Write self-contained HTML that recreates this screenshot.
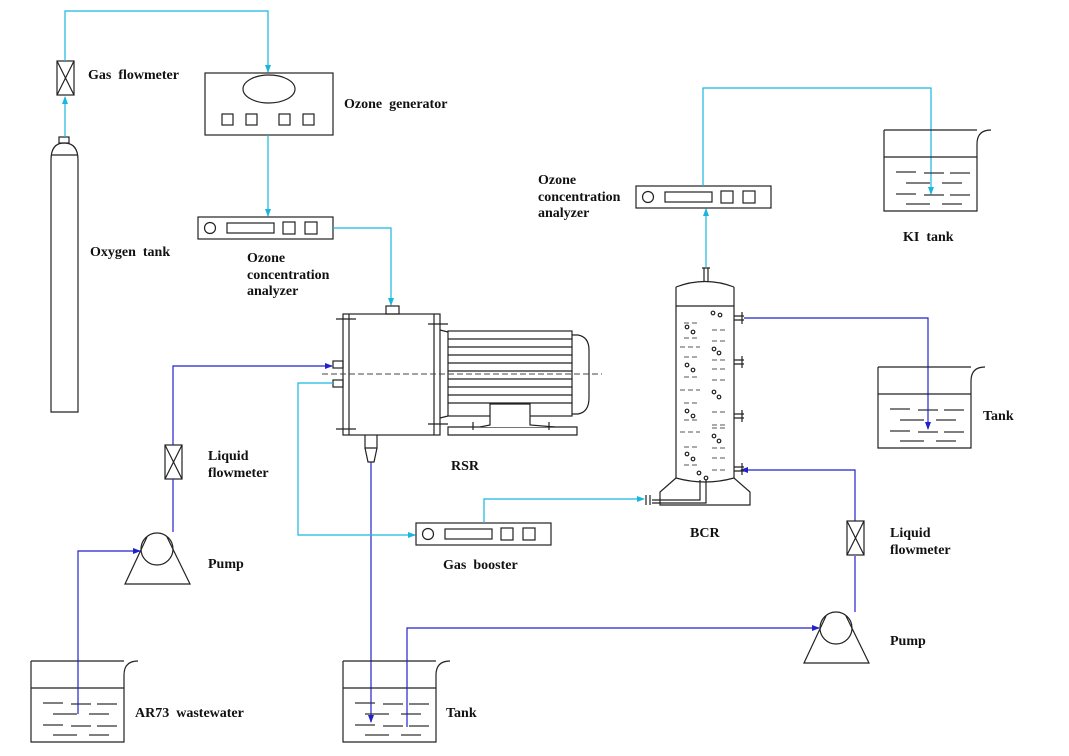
<!DOCTYPE html>
<html><head><meta charset="utf-8"><style>
html,body{margin:0;padding:0;background:#fff}
svg{display:block}
text{font-family:"Liberation Serif",serif;font-weight:bold;font-size:14px;fill:#111;white-space:pre}
.k{fill:none;stroke:#222;stroke-width:1.2}
.c{fill:none;stroke:#19b6e0;stroke-width:1.2}
.b{fill:none;stroke:#2222cc;stroke-width:1.2}
.d{stroke:#333;stroke-width:1.3}
</style></head><body>
<svg width="1069" height="756" viewBox="0 0 1069 756" xmlns="http://www.w3.org/2000/svg" xml:space="preserve">
<defs>
<marker id="ac" markerWidth="8" markerHeight="6" refX="7" refY="3" orient="auto" markerUnits="userSpaceOnUse"><path d="M0,0 L8,3 L0,6z" fill="#19b6e0"/></marker>
<marker id="ab" markerWidth="8" markerHeight="6" refX="7" refY="3" orient="auto" markerUnits="userSpaceOnUse"><path d="M0,0 L8,3 L0,6z" fill="#2222cc"/></marker>
<g id="tank">
<path class="k" d="M0,0 V81 H93 V14 Q93,0 107,0 M0,0 H93 M0,27 H93"/>
<g class="d">
<line x1="12" y1="42" x2="32" y2="42"/><line x1="40" y1="43" x2="60" y2="43"/><line x1="66" y1="43" x2="86" y2="43"/>
<line x1="22" y1="53" x2="46" y2="53"/><line x1="58" y1="53" x2="78" y2="53"/>
<line x1="12" y1="64" x2="32" y2="64"/><line x1="40" y1="65" x2="60" y2="65"/><line x1="66" y1="65" x2="86" y2="65"/>
<line x1="22" y1="74" x2="46" y2="74"/><line x1="58" y1="74" x2="78" y2="74"/>
</g>
</g>
<g id="fm"><rect class="k" x="0" y="0" width="17" height="34"/><path class="k" d="M0,0 L17,34 M17,0 L0,34"/></g>
<g id="pump"><circle class="k" cx="0" cy="0" r="16"/><path class="k" d="M-10,-12 L-32,35 H33 L10,-12"/></g>
<g id="an"><rect class="k" x="0" y="0" width="135" height="22"/><circle class="k" cx="12" cy="11" r="5.5"/><rect class="k" x="29" y="6" width="47" height="10"/><rect class="k" x="85" y="5" width="12" height="12"/><rect class="k" x="107" y="5" width="12" height="12"/></g>
</defs>

<rect class="k" x="59" y="137" width="10" height="6"/>
<path class="k" d="M51,412 V160 Q51,143 64,143 Q78,143 78,160 V412 Z"/>
<path class="k" d="M51,155 H78"/>
<path class="c" d="M65,137 V97" marker-end="url(#ac)"/>
<use href="#fm" x="57" y="61"/>
<path class="c" d="M65,61 V11 H268 V72" marker-end="url(#ac)"/>
<text x="88" y="79">Gas  flowmeter</text>
<text x="90" y="256">Oxygen  tank</text>

<rect class="k" x="205" y="73" width="128" height="62"/>
<ellipse class="k" cx="269" cy="89" rx="26" ry="14"/>
<rect class="k" x="222" y="114" width="11" height="11"/><rect class="k" x="246" y="114" width="11" height="11"/><rect class="k" x="279" y="114" width="11" height="11"/><rect class="k" x="303" y="114" width="11" height="11"/>
<text x="344" y="108">Ozone  generator</text>
<path class="c" d="M268,135 V216" marker-end="url(#ac)"/>
<use href="#an" x="198" y="217"/>
<text x="247" y="262">Ozone</text><text x="247" y="279">concentration</text><text x="247" y="295">analyzer</text>
<path class="c" d="M333,228 H391 V305" marker-end="url(#ac)"/>

<rect class="k" x="386" y="306" width="13" height="8"/>
<rect class="k" x="343" y="314" width="97" height="121"/>
<path class="k" d="M349,314 V435 M434,314 V435 M336,319 H356 M336,429 H356 M428,324 H448 M428,424 H448"/>
<rect class="k" x="333" y="361" width="10" height="7"/>
<rect class="k" x="333" y="380" width="10" height="7"/>
<path class="k" d="M440,330 L448,332 M440,418 L448,416"/>
<rect class="k" x="448" y="331" width="124" height="85"/>
<path class="k" d="M448,339 H572 M448,347 H572 M448,355 H572 M448,363 H572 M448,371 H572 M448,379 H572 M448,387 H572 M448,395 H572 M448,403 H572"/>
<path class="k" d="M572,335 H578 Q589,337 589,350 V398 Q589,412 578,414 H572"/>
<path class="k" d="M448,427 V435 H577 V427 Z"/>
<path d="M480,427 L490,425 V404 H530 V425 L555,427" fill="#fff" stroke="#222" stroke-width="1.2"/>
<path class="k" d="M473,422 V430 M549,422 V430"/>
<path d="M322,374 H602" stroke="#444" stroke-width="0.9" stroke-dasharray="6,3" fill="none"/>
<path class="k" d="M365,435 V448 H377 V435 M365,448 L368,462 H374 L377,448"/>
<text x="451" y="470">RSR</text>
<path class="b" d="M371,462 V722" marker-end="url(#ab)"/>

<use href="#fm" x="165" y="445"/>
<path class="b" d="M173,532 V479 M173,445 V366 H332" marker-end="url(#ab)"/>
<use href="#pump" x="157" y="549"/>
<text x="208" y="568">Pump</text>
<text x="208" y="460">Liquid</text><text x="208" y="477">flowmeter</text>
<use href="#tank" x="31" y="661"/>
<path class="b" d="M78,714 V551 H140" marker-end="url(#ab)"/>
<text x="135" y="717">AR73  wastewater</text>

<path class="c" d="M333,383 H298 V535 H415" marker-end="url(#ac)"/>
<use href="#an" x="416" y="523"/>
<text x="443" y="569">Gas  booster</text>
<path class="c" d="M484,523 V499 H644" marker-end="url(#ac)"/>

<use href="#tank" x="343" y="661"/>
<text x="446" y="717">Tank</text>
<path class="b" d="M407,727 V628 H819" marker-end="url(#ab)"/>
<use href="#pump" x="836" y="628"/>
<text x="890" y="645">Pump</text>
<path class="b" d="M855,612 V556 M855,521 V470 H741" marker-end="url(#ab)"/>
<use href="#fm" x="847" y="521"/>
<text x="890" y="537">Liquid</text><text x="890" y="554">flowmeter</text>

<path class="k" d="M702,268 H710 M704,268 V281 M708,268 V281"/>
<path class="k" d="M676,287 Q705,276 734,287"/>
<path class="k" d="M676,287 V478 M734,287 V478 M676,306 H734"/>
<path class="k" d="M676,478 Q705,486 734,478 L750,492 V505 H660 V492 L676,478"/>
<path class="k" d="M700,480 V500 H652 M706,480 V503 H652"/>
<path class="k" d="M646,495 V505 M650,495 V505"/>
<g class="k">
<path d="M734,316 H744 M734,320 H744 M742,312 V324"/>
<path d="M734,360 H744 M734,364 H744 M742,356 V368"/>
<path d="M734,414 H744 M734,418 H744 M742,410 V422"/>
<path d="M734,467 H744 M734,471 H744 M742,463 V475"/>
</g>
<g stroke="#555" stroke-width="1">
<path d="M684,323 H697 M684,338 H697 M712,330 H726 M712,341 H726 M680,347 H700 M684,357 H697 M684,377 H697 M712,360 H726 M712,380 H726 M712,369 H726 M680,390 H700 M684,403 H697 M684,420 H697 M712,412 H726 M712,425 H726 M712,428 H726 M680,432 H700 M684,447 H697 M684,465 H697 M712,448 H726 M712,458 H726 M712,470 H726" stroke-dasharray="5,3"/>
</g>
<g class="k" stroke-width="0.9">
<circle cx="713" cy="313" r="1.8"/><circle cx="720" cy="315" r="1.8"/><circle cx="687" cy="327" r="1.8"/><circle cx="693" cy="332" r="1.8"/>
<circle cx="714" cy="349" r="1.8"/><circle cx="719" cy="353" r="1.8"/><circle cx="687" cy="365" r="1.8"/><circle cx="693" cy="370" r="1.8"/>
<circle cx="714" cy="392" r="1.8"/><circle cx="719" cy="397" r="1.8"/><circle cx="687" cy="411" r="1.8"/><circle cx="693" cy="416" r="1.8"/>
<circle cx="714" cy="436" r="1.8"/><circle cx="719" cy="441" r="1.8"/><circle cx="687" cy="454" r="1.8"/><circle cx="693" cy="459" r="1.8"/>
<circle cx="699" cy="473" r="1.8"/><circle cx="706" cy="478" r="1.8"/>
</g>
<text x="690" y="537">BCR</text>
<path class="c" d="M706,267 V209" marker-end="url(#ac)"/>
<use href="#an" x="636" y="186"/>
<text x="538" y="184">Ozone</text><text x="538" y="201">concentration</text><text x="538" y="217">analyzer</text>
<path class="c" d="M703,186 V88 H931 V194" marker-end="url(#ac)"/>
<use href="#tank" x="884" y="130"/>
<text x="903" y="241">KI  tank</text>
<path class="b" d="M744,318 H928 V429" marker-end="url(#ab)"/>
<use href="#tank" x="878" y="367"/>
<text x="983" y="420">Tank</text>
</svg>
</body></html>
